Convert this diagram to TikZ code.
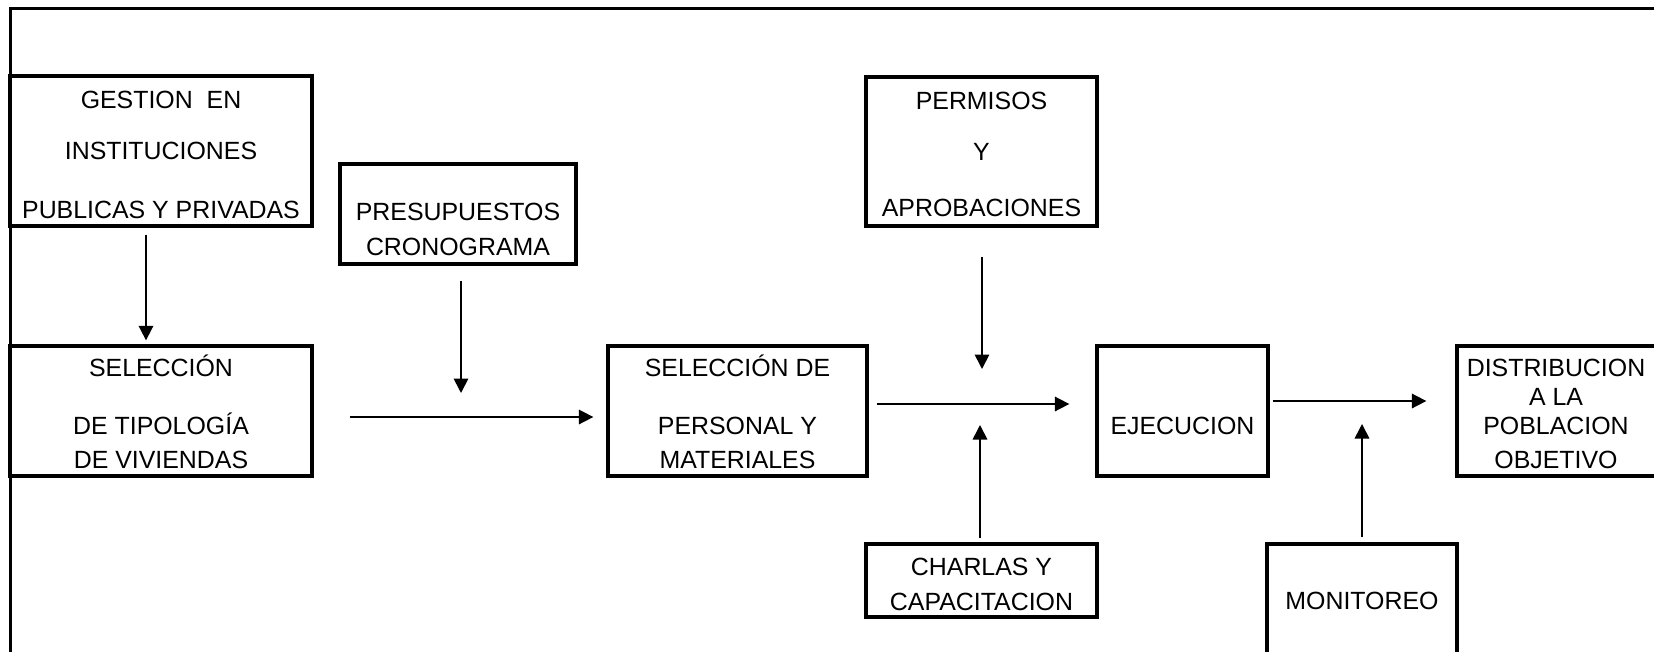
\documentclass[tikz,border=0pt]{standalone}
\usepackage{fontspec}
\setmainfont{Liberation Sans}
\usetikzlibrary{arrows.meta}
\begin{document}
\begin{tikzpicture}[x=1pt,y=-1pt,
  box/.style={draw, line width=3.3pt, inner sep=0pt},
  txt/.style={inner sep=0pt, anchor=north, align=center, font=\fontsize{24.9}{29}\selectfont},
  arr/.style={line width=1.7pt, -{Triangle[length=14.5pt,width=14.5pt]}},
  frame/.style={line width=3pt}]
\useasboundingbox (0,0) rectangle (1654,651);
\clip (0,0) rectangle (1654,651);
\fill[white] (0,0) rectangle (1654,651);
% outer frame
\draw[frame] (10,700) -- (10,8) -- (1700,8);
% boxes
\node[box, minimum width=302pt, minimum height=150pt] (g) at (161,151) {};
\node[box, minimum width=236pt, minimum height=100pt] (p) at (458,214) {};
\node[box, minimum width=302pt, minimum height=130pt] (s1) at (161,411) {};
\node[box, minimum width=259pt, minimum height=130pt] (s2) at (737.5,411) {};
\node[box, minimum width=231pt, minimum height=149pt] (perm) at (981.5,151.5) {};
\node[box, minimum width=171pt, minimum height=130pt] (e) at (1182.5,411) {};
\node[box, minimum width=201pt, minimum height=130pt] (d) at (1557.5,411) {};
\node[box, minimum width=231pt, minimum height=73pt] (c) at (981.5,580.5) {};
\node[box, minimum width=190pt, minimum height=136pt] (m) at (1362,612) {};
% texts
\node[txt] (gT) at (161,83) {\rule{0pt}{25pt}GESTION\ \ EN\\[22pt]INSTITUCIONES\\[30pt]PUBLICAS Y PRIVADAS};
\node[txt] (pT) at (458,195) {\rule{0pt}{25pt}PRESUPUESTOS\\[6pt]CRONOGRAMA};
\node[txt] (s1T) at (161,351) {\rule{0pt}{25pt}SELECCIÓN\\[29pt]DE TIPOLOGÍA\\[5pt]DE VIVIENDAS};
\node[txt] (s2T) at (737.5,351) {\rule{0pt}{25pt}SELECCIÓN DE\\[29pt]PERSONAL Y\\[5pt]MATERIALES};
\node[txt] (permT) at (981.5,84) {\rule{0pt}{25pt}PERMISOS\\[22pt]Y\\[27pt]APROBACIONES};
\node[txt] (eT) at (1182.5,409) {\rule{0pt}{25pt}EJECUCION};
\node[txt] (dT) at (1556,351) {\rule{0pt}{25pt}DISTRIBUCION\\A LA\\POBLACION\\[5pt]OBJETIVO};
\node[txt] (cT) at (981.5,550) {\rule{0pt}{25pt}CHARLAS Y\\[6pt]CAPACITACION};
\node[txt] (mT) at (1362,584) {\rule{0pt}{25pt}MONITOREO};
% junction points
\coordinate (pj) at (461,393);
\coordinate (permj) at (982,369);
\coordinate (cj) at (980,425);
\coordinate (mj) at (1362,424);
% connectors
\draw[arr] ([shift={(-15,7)}]g.south) -- ([shift={(-15,-4)}]s1.north);
\draw[arr] ([shift={(3,15)}]p.south) -- (pj);
\draw[arr] ([shift={(36,6)}]s1.east) -- ([shift={(-13,6)}]s2.west);
\draw[arr] ([shift={(0.5,29)}]perm.south) -- (permj);
\draw[arr] ([shift={(8,-7)}]s2.east) -- ([shift={(-26,-7)}]e.west);
\draw[arr] ([shift={(-1.5,-4)}]c.north) -- (cj);
\draw[arr] ([shift={(3,-10)}]e.east) -- ([shift={(-29,-10)}]d.west);
\draw[arr] ([shift={(0,-5)}]m.north) -- (mj);
\end{tikzpicture}
\end{document}
